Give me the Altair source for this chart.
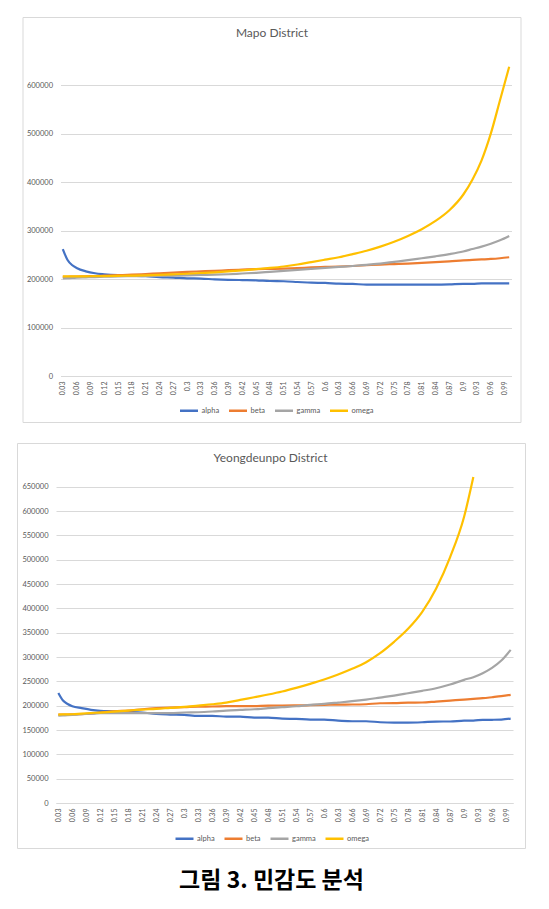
import altair as alt
import pandas as pd

# ---- categories (x) ----
X = [0.03, 0.04, 0.05, 0.06, 0.08, 0.10, 0.12, 0.15, 0.18, 0.21, 0.24, 0.27, 0.30,
     0.33, 0.36, 0.39, 0.42, 0.45, 0.48, 0.51, 0.54, 0.57, 0.60, 0.63, 0.66, 0.69,
     0.72, 0.75, 0.78, 0.81, 0.84, 0.87, 0.90, 0.92, 0.94, 0.96, 0.98, 1.00]

X_TICKS = [0.03, 0.06, 0.09, 0.12, 0.15, 0.18, 0.21, 0.24, 0.27, 0.3, 0.33, 0.36,
           0.39, 0.42, 0.45, 0.48, 0.51, 0.54, 0.57, 0.6, 0.63, 0.66, 0.69, 0.72,
           0.75, 0.78, 0.81, 0.84, 0.87, 0.9, 0.93, 0.96, 0.99]

SERIES = ["alpha", "beta", "gamma", "omega"]
COLORS = ["#4472C4", "#ED7D31", "#A5A5A5", "#FFC000"]

# ---- Mapo District ----
MAPO_TITLE = "Mapo District"
MAPO_Y_TICKS = [0, 100000, 200000, 300000, 400000, 500000, 600000]
MAPO_ALPHA = [262000, 240000, 229000, 223000, 216000, 212000, 210000, 208000, 207000,
              206000, 204000, 203000, 201500, 201000, 199500, 198500, 198000, 197500,
              196000, 195500, 194000, 192500, 192000, 190500, 190000, 188500, 188500,
              188500, 188500, 188500, 188500, 189000, 190000, 190000, 191000, 191000,
              191000, 191000]
MAPO_BETA = [204500, 204800, 205000, 205200, 205800, 206300, 207000, 208000, 209000,
             210500, 212000, 213500, 215000, 216000, 217000, 218500, 219500, 220500,
             221000, 221500, 222500, 224000, 225000, 226000, 227000, 228500, 230000,
             231000, 232000, 233500, 235000, 236500, 238500, 239500, 240500, 241500,
             243000, 245000]
MAPO_GAMMA = [201500, 202000, 202300, 202800, 203500, 204200, 204800, 205500, 206000,
              206500, 206800, 207200, 207800, 208500, 209000, 210000, 211500, 213000,
              215000, 217000, 219000, 221000, 223000, 225000, 227000, 229500, 232000,
              235500, 239000, 243000, 247000, 251500, 257000, 262000, 267000, 273000,
              280000, 289000]
MAPO_OMEGA = [205500, 205500, 205500, 205500, 205700, 206000, 206200, 206700, 207200,
              207800, 208700, 209800, 211000, 212500, 214000, 215800, 218000, 220500,
              223000, 226000, 230000, 235000, 240000, 245000, 251500, 258500, 267000,
              277000, 289000, 303000, 320000, 342000, 374000, 405000, 445000, 500000,
              569000, 638000]

# ---- Yeongdeunpo District ----
YDP_TITLE = "Yeongdeunpo District"
YDP_Y_TICKS = [0, 50000, 100000, 150000, 200000, 250000, 300000, 350000, 400000,
               450000, 500000, 550000, 600000, 650000]
YDP_ALPHA = [226000, 210500, 203500, 199000, 195000, 191500, 189500, 188500, 187200,
             186000, 183000, 181800, 181000, 179000, 179000, 177600, 177500, 175600,
             175500, 173500, 172800, 171500, 171300, 169400, 168000, 168000, 166000,
             165300, 165300, 166000, 167400, 167500, 169400, 169500, 170800, 171000,
             171500, 173500]
YDP_BETA = [181800, 181800, 181900, 182000, 182700, 183500, 186000, 188600, 190000,
            192700, 194800, 196200, 196900, 198200, 198300, 198900, 199000, 199200,
            200300, 200400, 200500, 201000, 201600, 202300, 202400, 203000, 205000,
            205100, 206400, 206500, 208500, 210600, 212600, 214000, 215400, 217400,
            219500, 222200]
YDP_GAMMA = [179700, 180000, 180500, 181100, 182400, 183500, 184500, 184600, 184600,
             184600, 184600, 184700, 186000, 186500, 188000, 190000, 191400, 192700,
             194800, 196900, 198900, 201600, 203700, 206400, 209200, 212600, 216700,
             220800, 225600, 230500, 235900, 243500, 253100, 258600, 266800, 277800,
             292900, 314800]
YDP_OMEGA = [181800, 182000, 182200, 182400, 183800, 185000, 185900, 187900, 190000,
             192000, 193400, 195500, 197500, 200300, 203000, 206400, 211900, 217400,
             222900, 229100, 236600, 244900, 253800, 264000, 275700, 289400, 308000,
             331300, 358000, 392300, 440300, 505000, 587800, 670000]

CAPTION = "그림 3. 민감도 분석"


def long_table(series_lists):
    rows = []
    for name, vals in zip(SERIES, series_lists):
        for xv, v in zip(X, vals):
            rows.append({"x": xv, "value": v, "series": name})
    return pd.DataFrame(rows)


GRAY_TXT = "#595959"
GRID = "#d9d9d9"


def panel(df, title, ymax, yticks, w, h, frame, leg_xy, title_xy):
    lines = alt.Chart(df).mark_line(strokeWidth=2.2, interpolate="monotone").encode(
        x=alt.X(
            "x:Q",
            scale=alt.Scale(domain=[0.025, 1.005], nice=False, zero=False),
            axis=alt.Axis(
                title=None, values=X_TICKS, format=".2~f", labelAngle=270,
                labelAlign="right", labelBaseline="middle", labelFontSize=7,
                labelFont="Lato", labelColor=GRAY_TXT, labelPadding=5,
                labelOverlap=False, labelFlush=False, labelBound=False,
                ticks=False, grid=False, domain=True, domainColor=GRID,
                domainWidth=1,
            ),
        ),
        y=alt.Y(
            "value:Q",
            scale=alt.Scale(domain=[0, ymax], nice=False, zero=True),
            axis=alt.Axis(
                title=None, values=yticks, format="d", labelFontSize=7.5,
                labelFont="Lato", labelColor=GRAY_TXT, labelPadding=8,
                ticks=False, domain=False, grid=True, gridColor=GRID,
                gridWidth=1, labelOverlap=False,
            ),
        ),
        color=alt.Color(
            "series:N",
            scale=alt.Scale(domain=SERIES, range=COLORS),
            legend=alt.Legend(
                title=None, orient="none", legendX=leg_xy[0], legendY=leg_xy[1],
                direction="horizontal", symbolType="stroke", symbolSize=324,
                symbolStrokeWidth=2.5, labelFontSize=7.5, labelFont="Lato",
                labelColor=GRAY_TXT, labelOffset=2, columnPadding=4, padding=0,
            ),
        ),
    )
    one = pd.DataFrame({"f": [0]})
    box = alt.Chart(one).mark_rect(
        fillOpacity=0, stroke=GRID, strokeWidth=1
    ).encode(
        x=alt.value(frame[0]), x2=alt.value(frame[1]),
        y=alt.value(frame[2]), y2=alt.value(frame[3]),
    )
    ttl = alt.Chart(one).mark_text(
        text=title, font="Lato", fontSize=12, color=GRAY_TXT,
        align="center", baseline="middle",
    ).encode(x=alt.value(title_xy[0]), y=alt.value(title_xy[1]))
    return alt.layer(box, ttl, lines).properties(width=w, height=h)


mapo = panel(
    long_table([MAPO_ALPHA, MAPO_BETA, MAPO_GAMMA, MAPO_OMEGA]),
    MAPO_TITLE, 650000, MAPO_Y_TICKS, 451, 315,
    (-37.5, 460.5, -43.5, 361.5), (118, 339), (211.5, -28),
)
ydp = panel(
    long_table([YDP_ALPHA, YDP_BETA, YDP_GAMMA, YDP_OMEGA]),
    YDP_TITLE, 670000, YDP_Y_TICKS, 457, 326,
    (-38.5, 469.5, -33.5, 371.5), (118, 351), (214.5, -19),
)

chart = alt.vconcat(mapo, ydp, spacing=20, center=True).resolve_scale(
    x="independent", y="independent", color="shared"
).resolve_legend(color="independent").properties(
    padding={"left": 9, "top": 9, "right": 5, "bottom": 5},
    title=alt.TitleParams(
        text=CAPTION, orient="bottom", anchor="middle", fontSize=23,
        font="Noto Sans CJK KR", fontWeight="bold", color="#000000",
        baseline="top", offset=21,
    ),
).configure_view(strokeWidth=0)

chart.save("out.html", embed_options={"renderer": "svg", "actions": False})
